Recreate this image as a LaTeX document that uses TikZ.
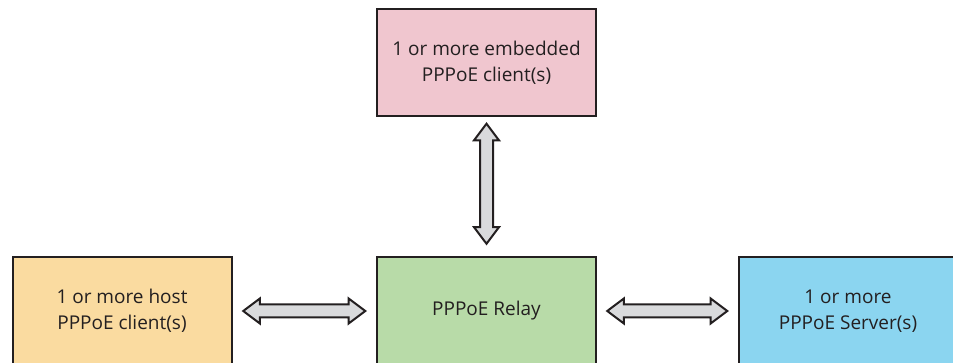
\documentclass[tikz,border=0pt]{standalone}
\usepackage{fontspec}
\setmainfont{Open Sans}
\usetikzlibrary{shapes.arrows,calc}
\definecolor{inkline}{HTML}{231F20}
\definecolor{embpink}{HTML}{F0C6CF}
\definecolor{hostorange}{HTML}{FADBA0}
\definecolor{relaygreen}{HTML}{B8DBA8}
\definecolor{serverblue}{HTML}{8BD5F0}
\definecolor{arrowgray}{HTML}{D9DADC}
\begin{document}
\begin{tikzpicture}[x=1pt,y=-1pt,
  box/.style={draw=inkline, line width=2pt, minimum width=219pt, minimum height=107pt,
    inner sep=0pt, align=center, text=inkline, font=\fontsize{19}{26}\selectfont},
  link/.style={double arrow, draw=inkline, fill=arrowgray, line width=2pt,
    double arrow head extend=6pt, double arrow tip angle=74,
    inner xsep=0pt, inner ysep=5.5pt}]
  \useasboundingbox (0,0) rectangle (953,363);
  \clip (0,0) rectangle (953,363);
  % boxes
  \node[box, fill=embpink] (emb) at (486.5,62.5) {1 or more embedded\\PPPoE client(s)};
  \node[box, fill=hostorange] (host) at (122,311) {1 or more host\\PPPoE client(s)};
  \node[box, fill=relaygreen] (relay) at (486.5,311) {PPPoE Relay};
  \node[box, fill=serverblue] (server) at (848,311) {1 or more\\PPPoE Server(s)};
  % bidirectional links
  \node[link, minimum height=120pt, rotate=90] (l1) at ($(emb.south)!0.5!(relay.north)+(0,-3)$) {};
  \node[link, minimum height=122pt] (l2) at ($(host.east)!0.5!(relay.west)$) {};
  \node[link, minimum height=120pt] (l3) at ($(relay.east)!0.5!(server.west)$) {};
\end{tikzpicture}
\end{document}
